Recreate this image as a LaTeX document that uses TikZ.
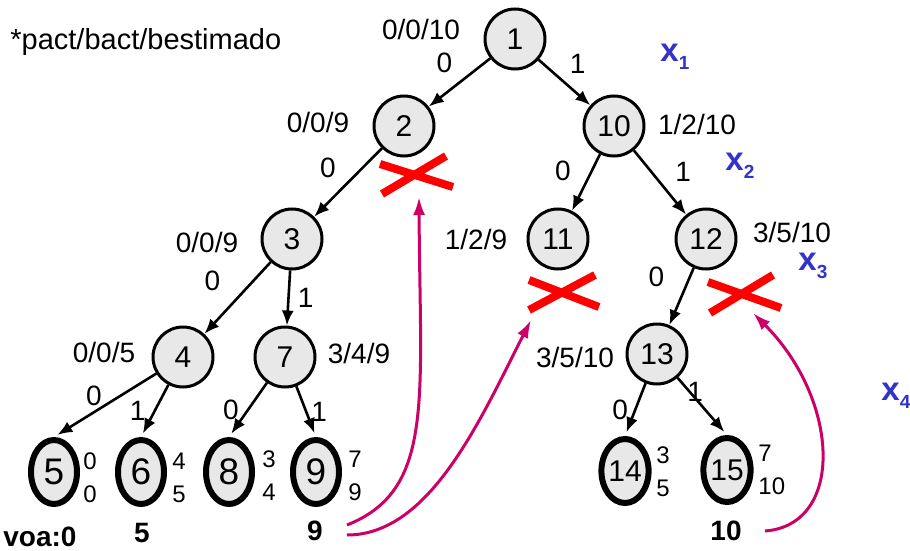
\documentclass[tikz,border=0pt]{standalone}
\usepackage{fontspec}
\setmainfont{Liberation Sans}
\usetikzlibrary{arrows.meta}
\usetikzlibrary{shapes.geometric}
\usetikzlibrary{positioning}

\definecolor{gris}{HTML}{E8E8E8}
\definecolor{rosa}{HTML}{CC0066}
\definecolor{azul}{HTML}{3333CC}

\newcommand{\varsub}[2]{#1\raisebox{-4pt}{\fontsize{9.5}{10}\selectfont #2}}

\tikzset{
  nodo/.style={circle, draw, line width=1.5pt, fill=gris, minimum size=30pt, inner sep=0pt, font=\fontsize{15}{18}\selectfont},
  hoja/.style={ellipse, draw, line width=3pt, fill=gris, minimum width=23pt, minimum height=32pt, inner sep=0pt, font=\fontsize{15}{18}\selectfont},
  hojag/.style={hoja, font=\fontsize{18.5}{20}\selectfont},
  rama/.style={line width=1.3pt, -{Latex[length=7.5pt,width=6pt]}},
  etiq/.style={inner sep=1pt, font=\fontsize{14}{16}\selectfont},
  cota/.style={inner sep=0pt, font=\fontsize{14}{16}\selectfont},
  par/.style={inner sep=0pt, align=left, anchor=west, font=\fontsize{12}{16.5}\selectfont},
  valor/.style={inner sep=0pt, font=\bfseries\fontsize{14}{16}\selectfont},
  var/.style={inner sep=0pt, anchor=base west, text=azul, font=\bfseries\fontsize{16.5}{18}\selectfont},
  poda/.style={red, line width=4pt},
  vuelta/.style={rosa, line width=1.5pt, -{Latex[length=9pt,width=6pt]}},
}

\begin{document}
\begin{tikzpicture}[x=0.5pt, y=-0.5pt]
	\useasboundingbox (0,0) rectangle (910,551);
	
	\node[cota, anchor=base west, font=\fontsize{14.5}{16}\selectfont] (leyenda) at (10,50) {*pact/bact/bestimado};
	
	\node[nodo] (n1) at (515,39) {1};
	\node[nodo] (n2) at (404,126) {2};
	\node[nodo] (n10) at (614,126) {10};
	\node[nodo] (n3) at (292,239) {3};
	\node[nodo] (n11) at (558,239) {11};
	\node[nodo] (n12) at (706,239) {12};
	\node[nodo] (n4) at (183,357) {4};
	\node[nodo] (n7) at (285,357) {7};
	\node[nodo] (n13) at (657,354) {13};
	
	\node[hojag] (n5) at (54,472) {5};
	\node[hojag] (n6) at (141,472) {6};
	\node[hojag] (n8) at (229,472) {8};
	\node[hojag] (n9) at (316,472) {9};
	\node[hoja] (n14) at (625,471) {14};
	\node[hoja] (n15) at (727,470) {15};
	
	\node[cota] (b1) at (421,29) {0/0/10};
	\node[cota] (b2) at (318,122) {0/0/9};
	\node[cota] (b10) at (697,124) {1/2/10};
	\node[cota] (b3) at (207,242) {0/0/9};
	\node[cota] (b11) at (476,239) {1/2/9};
	\node[cota] (b12) at (792,232) {3/5/10};
	\node[cota] (b4) at (104,352) {0/0/5};
	\node[cota] (b7) at (359,353) {3/4/9};
	\node[cota] (b13) at (575,357) {3/5/10};
	
	\node[par] (p5) at (83,478) {0\\0};
	\node[par] (p6) at (172,478) {4\\5};
	\node[par] (p8) at (262,476) {3\\4};
	\node[par] (p9) at (348,476) {7\\9};
	\node[par] (p14) at (656,472) {3\\5};
	\node[par] (p15) at (758,470) {7\\10};
	
	\node[valor] (v5) at (40,537) {voa:0};
	\node[valor] (v6) at (142,533) {5};
	\node[valor] (v9) at (315,531) {9};
	\node[valor] (v15) at (726,531) {10};
	
	\node[var] (x1) at (660,62) {\varsub{x}{1}};
	\node[var] (x2) at (725,170) {\varsub{x}{2}};
	\node[var] (x3) at (798,270) {\varsub{x}{3}};
	\node[var] (x4) at (881,400) {\varsub{x}{4}};
	
	\draw[rama] (n1) -- node[etiq, above left=3pt and 2pt]{0} (n2);
	\draw[rama] (n1) -- node[etiq, above right=3pt and 1pt]{1} (n10);
	\draw[rama] (n2) -- node[etiq, above left=0.5pt and 4.5pt]{0} (n3);
	\draw[rama] (n10) -- node[etiq, above left=-1pt and 6pt]{0} (n11);
	\draw[rama] (n10) -- node[etiq, above right=-1pt and 6pt]{1} (n12);
	\draw[rama] (n3) -- node[etiq, above left=2pt and 7pt]{0} (n4);
	\draw[rama] (n3) -- node[etiq, right=3pt]{1} (n7);
	\draw[rama] (n12) -- node[etiq, above left=3pt and 7pt]{0} (n13);
	\draw[rama, shorten >=2pt] (n4) -- node[etiq, above left=-2pt and 0pt]{0} (n5.north);
	\draw[rama, shorten >=2pt] (n4) -- node[etiq, left=3pt]{1} (n6.north);
	\draw[rama, shorten >=2pt] (n7) -- node[etiq, left=3pt]{0} (n8.north);
	\draw[rama, shorten >=2pt] (n7) -- node[etiq, right=1pt]{1} (n9.north);
	\draw[rama, shorten >=2pt] (n13) -- node[etiq, left=2pt]{0} (n14.north);
	\draw[rama, shorten >=2pt] (n13) -- node[etiq, above left=1pt and -2pt]{1} (n15.north);
	
	\draw[poda] (382,194) -- (446,156) (380,164) -- (453,187);
	\draw[poda] (529,310) -- (595,275) (529,280) -- (599,307);
	\draw[poda] (710,313) -- (773,275) (708,282) -- (781,308);
	
	\coordinate (a9) at (347,525);
	\coordinate (c9) at (347,535);
	\coordinate (a10) at (765,531);
	\coordinate (t2) at (419,197);
	\coordinate (t11) at (531,320);
	\coordinate (t12) at (753,313);
	\draw[vuelta] (a9) .. controls (435,490) and (420,400) .. (t2);
	\draw[vuelta] (c9) .. controls (430,535) and (480,420) .. (t11);
	\draw[vuelta] (a10) .. controls (845,525) and (840,400) .. (t12);
\end{tikzpicture}
\end{document}
